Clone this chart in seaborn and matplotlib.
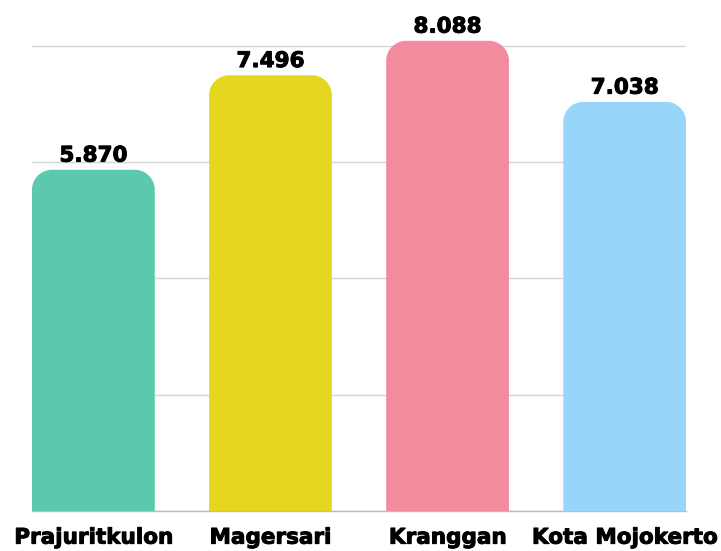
import numpy as np
import pandas as pd
import seaborn as sns
import matplotlib
matplotlib.use("Agg")
import matplotlib.pyplot as plt
import matplotlib.patheffects as pe
from matplotlib.path import Path
from matplotlib.patches import PathPatch

categories = ["Prajuritkulon", "Magersari", "Kranggan", "Kota Mojokerto"]
values = [5870, 7496, 8088, 7038]
colors = ["#5CC8AC", "#E5D720", "#F28B9E", "#97D6FA"]
yticks = [0, 2000, 4000, 6000, 8000]

sns.set_theme(style="white")
plt.rcParams["font.family"] = ["DejaVu Sans"]

df = pd.DataFrame({"cat": categories, "val": values})

fig = plt.figure(figsize=(7.21, 5.51), dpi=100)
ax_left, ax_right, ax_bottom_px, ax_top_px = 32, 686, 511, 0
ax = fig.add_axes([ax_left / 721, (551 - ax_bottom_px) / 551,
                   (ax_right - ax_left) / 721, (ax_bottom_px - ax_top_px) / 551])

bw = 0.693
sns.barplot(data=df, x="cat", y="val", hue="cat", palette=colors, legend=False,
            width=bw, saturation=1, ax=ax, zorder=3)

ymax = 8790
ax.set_xlim(-bw / 2, len(categories) - 1 + bw / 2)
ax.set_ylim(0, ymax)
ax.set_yticks(yticks)
ax.yaxis.grid(True, color="#d6d6d6", linewidth=1.0, zorder=0)
ax.set_axisbelow(True)
for s in ["top", "right", "left"]:
    ax.spines[s].set_visible(False)
ax.spines["bottom"].set_color("#bdbdbd")
ax.spines["bottom"].set_linewidth(1.0)
ax.tick_params(axis="y", left=False, labelleft=False)
ax.tick_params(axis="x", bottom=False, pad=6)
ax.set_xlabel("")
ax.set_ylabel("")
stroke = [pe.withStroke(linewidth=0.7, foreground="black")]
for lab in ax.get_xticklabels():
    lab.set_fontsize(15.5)
    lab.set_fontweight("bold")
    lab.set_color("black")
    lab.set_path_effects(stroke)

# rounded top corners
rpx = 20
xr = (ax.get_xlim()[1] - ax.get_xlim()[0]) / (ax_right - ax_left) * rpx
yr = ymax / (ax_bottom_px - ax_top_px) * rpx
k = 0.5523
for p in list(ax.patches):
    x0 = p.get_x(); x1 = x0 + p.get_width(); h = p.get_height()
    fc = p.get_facecolor()
    verts = [(x0, 0), (x0, h - yr),
             (x0, h - yr + k * yr), (x0 + xr - k * xr, h), (x0 + xr, h),
             (x1 - xr, h),
             (x1 - xr + k * xr, h), (x1, h - yr + k * yr), (x1, h - yr),
             (x1, 0), (x0, 0)]
    codes = [Path.MOVETO, Path.LINETO,
             Path.CURVE4, Path.CURVE4, Path.CURVE4,
             Path.LINETO,
             Path.CURVE4, Path.CURVE4, Path.CURVE4,
             Path.LINETO, Path.CLOSEPOLY]
    patch = PathPatch(Path(verts, codes), facecolor=fc, edgecolor="none", zorder=3)
    p.remove()
    ax.add_patch(patch)

for i, v in enumerate(values):
    txt = f"{v:,}".replace(",", ".")
    ax.annotate(txt, (i, v), xytext=(0, 3), textcoords="offset points",
                ha="center", va="bottom", fontsize=15.5, fontweight="bold",
                color="black", zorder=5, path_effects=stroke)

fig.savefig("out.png", dpi=100)
